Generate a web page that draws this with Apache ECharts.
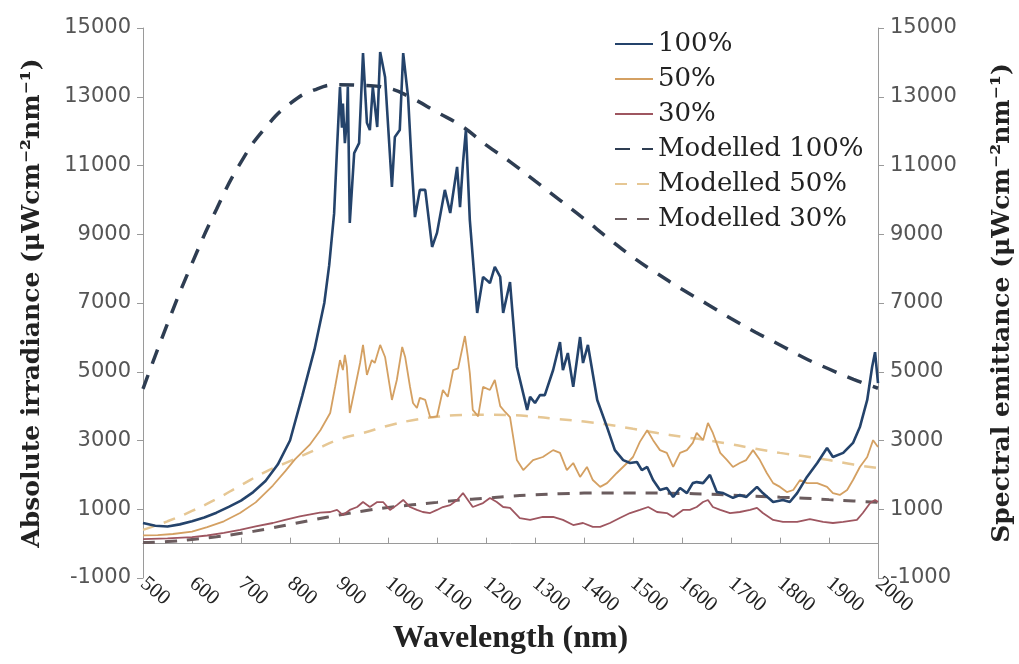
<!DOCTYPE html>
<html><head><meta charset="utf-8">
<script src="https://cdn.jsdelivr.net/npm/echarts@6/dist/echarts.min.js"></script>
<style>html,body{margin:0;padding:0;background:#fff}#c{width:1019px;height:664px}</style>
</head><body><div id="c"></div>
<script>
// ---- data ----
const yTicks = [-1000, 1000, 3000, 5000, 7000, 9000, 11000, 13000, 15000];
const seriesNames = ['100%', '50%', '30%', 'Modelled 100%', 'Modelled 50%', 'Modelled 30%'];

// measured absolute irradiance, [wavelength nm, value]
const measured100 = [[500,600],[525,520],[550,500],[575,560],[600,650],[625,760],[650,900],[675,1070],[700,1250],[725,1500],[750,1820],[775,2300],[800,3000],[825,4300],[850,5650],[870,7000],[880,8100],[890,9600],[896,11500],[902,13280],[906,12100],[908,12800],[912,11650],[916,12300],[918,13300],[922,9330],[931,11360],[941,11650],[949,14270],[957,12240],[963,12030],[969,13280],[978,12120],[984,14300],[994,13575],[1008,10375],[1014,11830],[1024,12030],[1031,14270],[1041,12990],[1049,10870],[1055,9500],[1065,10290],[1076,10290],[1090,8630],[1100,9040],[1116,10290],[1127,9620],[1141,10960],[1147,9790],[1153,11070],[1159,12030],[1167,9410],[1182,6710],[1194,7760],[1208,7580],[1218,8050],[1229,7760],[1235,6710],[1249,7610],[1263,5140],[1284,3890],[1290,4270],[1300,4090],[1310,4320],[1320,4320],[1337,5050],[1351,5865],[1357,5050],[1367,5545],[1378,4560],[1392,6010],[1398,5255],[1408,5780],[1427,4180],[1447,3390],[1463,2720],[1480,2430],[1494,2345],[1508,2375],[1518,2140],[1529,2230],[1541,1850],[1555,1560],[1569,1620],[1582,1356],[1596,1620],[1610,1470],[1622,1760],[1630,1790],[1643,1760],[1657,2000],[1671,1500],[1684,1470],[1704,1330],[1718,1415],[1731,1356],[1753,1650],[1765,1470],[1786,1210],[1806,1270],[1820,1210],[1835,1470],[1855,1940],[1876,2345],[1896,2780],[1908,2520],[1929,2640],[1949,2930],[1963,3390],[1978,4180],[1988,5140],[1994,5570],[2000,4670]];

const measured50 = [[500,240],[530,250],[561,280],[600,350],[631,480],[665,650],[698,890],[730,1200],[765,1690],[790,2100],[810,2450],[840,2870],[862,3300],[882,3800],[892,4556],[902,5340],[908,5050],[912,5490],[916,5140],[922,3800],[933,4556],[943,5255],[949,5780],[957,4906],[967,5340],[973,5255],[984,5780],[994,5430],[1008,4180],[1018,4760],[1029,5720],[1035,5430],[1045,4556],[1051,4090],[1059,3945],[1065,4240],[1076,4180],[1086,3680],[1092,3680],[1100,3700],[1112,4470],[1122,4270],[1133,5050],[1143,5100],[1157,6040],[1163,5430],[1167,4960],[1173,3890],[1184,3700],[1194,4560],[1208,4470],[1218,4760],[1229,4000],[1239,3830],[1249,3680],[1263,2430],[1276,2140],[1296,2430],[1316,2520],[1337,2720],[1351,2640],[1365,2140],[1378,2345],[1392,1940],[1406,2230],[1418,1850],[1433,1650],[1447,1760],[1467,2055],[1488,2345],[1500,2520],[1514,2960],[1529,3300],[1541,3010],[1555,2720],[1569,2640],[1582,2230],[1596,2640],[1610,2720],[1622,2930],[1630,3220],[1643,3010],[1653,3510],[1663,3220],[1678,2640],[1692,2430],[1704,2230],[1718,2345],[1731,2430],[1745,2720],[1759,2430],[1773,2055],[1786,1760],[1800,1650],[1814,1500],[1827,1560],[1841,1850],[1855,1760],[1876,1760],[1896,1650],[1908,1470],[1922,1415],[1937,1560],[1949,1850],[1963,2230],[1978,2520],[1990,3010],[2000,2810]];

const measured30 = [[500,130],[550,150],[600,190],[631,236],[665,310],[698,400],[730,500],[765,600],[790,690],[820,790],[861,900],[882,920],[896,980],[908,830],[922,980],[937,1065],[949,1210],[963,1065],[978,1210],[990,1210],[1004,980],[1018,1120],[1031,1270],[1045,1065],[1059,980],[1071,920],[1086,890],[1100,980],[1112,1065],[1127,1120],[1141,1270],[1153,1470],[1163,1270],[1173,1065],[1194,1180],[1208,1330],[1222,1210],[1235,1065],[1249,1040],[1269,745],[1290,690],[1316,775],[1337,775],[1357,690],[1378,540],[1398,600],[1418,485],[1433,485],[1453,600],[1473,745],[1494,890],[1514,980],[1531,1065],[1549,920],[1569,890],[1582,775],[1602,980],[1616,980],[1630,1065],[1643,1210],[1653,1270],[1663,1065],[1678,980],[1698,890],[1718,920],[1739,980],[1753,1040],[1765,890],[1786,690],[1806,630],[1835,630],[1861,715],[1888,630],[1908,600],[1929,630],[1957,690],[1969,890],[1984,1180],[1994,1270],[2000,1210]];

// modelled spectral emittance, sampled every 50 nm
const wlModel = [500,550,600,650,700,750,800,850,900,950,1000,1050,1100,1150,1200,1250,1300,1350,1400,1450,1500,1550,1600,1650,1700,1750,1800,1850,1900,1950,2000];
const model100 = [4500,6400,8150,9730,11100,12100,12800,13200,13350,13330,13250,12950,12550,12150,11600,11100,10550,10000,9450,8880,8330,7850,7400,6980,6550,6150,5780,5400,5080,4780,4520];
const model50 = [400,650,950,1300,1700,2090,2400,2720,3030,3220,3430,3590,3690,3740,3750,3740,3690,3620,3550,3460,3340,3220,3110,3010,2890,2760,2640,2540,2430,2300,2200];
const model30 = [30,60,120,200,300,420,560,700,830,950,1050,1130,1200,1270,1320,1380,1420,1450,1470,1475,1475,1470,1460,1440,1410,1380,1350,1320,1280,1240,1200];

// ---- chart ----
const zip = (xs, ys) => xs.map((x, i) => [x, ys[i]]);
const axisColor = '#9a9a9a';
const yTitleStyle = {fontFamily: 'DejaVu Serif', fontWeight: 'bold', fontSize: 25, color: '#222'};
const yLabelStyle = {fontFamily: 'DejaVu Sans', fontSize: 21, color: '#555', margin: 12, customValues: yTicks,
  formatter: v => String(v)};

function yAxisDef(pos, title, gap) {
  return {
    type: 'value', min: -1000, max: 15000, position: pos,
    axisLine: {show: true, onZero: false, lineStyle: {color: axisColor, width: 1}},
    axisTick: {show: true, length: 6, customValues: yTicks, lineStyle: {color: axisColor}},
    axisLabel: yLabelStyle,
    splitLine: {show: false},
    name: title, nameLocation: 'middle', nameGap: gap, nameTextStyle: yTitleStyle
  };
}

const chart = echarts.init(document.getElementById('c'), null, {renderer: 'canvas'});
chart.setOption({
  animation: false,
  backgroundColor: '#fff',
  grid: {left: 143, right: 141, top: 28, bottom: 86, containLabel: false, outerBoundsMode: 'none'},
  legend: {
    orient: 'vertical', left: 609, top: 26, itemWidth: 38, itemHeight: 14, itemGap: 9,
    data: seriesNames,
    itemStyle: {opacity: 0},
    textStyle: {fontFamily: 'DejaVu Serif', fontSize: 26, color: '#222', lineHeight: 24}
  },
  xAxis: [
    {
      type: 'value', min: 500, max: 2000, interval: 100, position: 'bottom',
      axisLine: {onZero: true, lineStyle: {color: axisColor, width: 1}},
      axisTick: {inside: true, length: 6, lineStyle: {color: axisColor}},
      axisLabel: {show: false}, splitLine: {show: false}
    },
    {
      type: 'value', min: 500, max: 2000, interval: 100, position: 'bottom',
      axisLine: {show: false, onZero: false}, axisTick: {show: false},
      axisLabel: {rotate: -40, margin: 3, fontFamily: 'Liberation Serif', fontSize: 21, color: '#222',
        formatter: v => String(v)},
      splitLine: {show: false},
      name: 'Wavelength (nm)', nameLocation: 'middle', nameGap: 33,
      nameTextStyle: {fontFamily: 'Liberation Serif', fontWeight: 'bold', fontSize: 32, color: '#222'}
    }
  ],
  yAxis: [
    yAxisDef('left', 'Absolute irradiance (μWcm⁻²nm⁻¹)', 98),
    yAxisDef('right', 'Spectral emittance (μWcm⁻²nm⁻¹)', 112)
  ],
  series: [
    {name: '100%', type: 'line', data: measured100, xAxisIndex: 0, yAxisIndex: 0, symbol: 'none', z: 6,
     lineStyle: {color: '#24436b', width: 2.6}, itemStyle: {color: '#24436b'}},
    {name: '50%', type: 'line', data: measured50, xAxisIndex: 0, yAxisIndex: 0, symbol: 'none', z: 5,
     lineStyle: {color: '#d4a062', width: 1.8}, itemStyle: {color: '#d4a062'}},
    {name: '30%', type: 'line', data: measured30, xAxisIndex: 0, yAxisIndex: 0, symbol: 'none', z: 5,
     lineStyle: {color: '#9e5660', width: 1.8}, itemStyle: {color: '#9e5660'}},
    {name: 'Modelled 100%', type: 'line', data: zip(wlModel, model100), xAxisIndex: 0, yAxisIndex: 1, symbol: 'none', smooth: true, z: 4,
     lineStyle: {color: '#2e3d52', width: 3.5, type: [15, 12]}, itemStyle: {color: '#2e3d52'}},
    {name: 'Modelled 50%', type: 'line', data: zip(wlModel, model50), xAxisIndex: 0, yAxisIndex: 1, symbol: 'none', smooth: true, z: 3,
     lineStyle: {color: '#e6c794', width: 2.5, type: [12, 10]}, itemStyle: {color: '#e6c794'}},
    {name: 'Modelled 30%', type: 'line', data: zip(wlModel, model30), xAxisIndex: 0, yAxisIndex: 1, symbol: 'none', smooth: true, z: 3,
     lineStyle: {color: '#6b5c5e', width: 3, type: [12, 10]}, itemStyle: {color: '#6b5c5e'}}
  ]
});
</script>
</body></html>
